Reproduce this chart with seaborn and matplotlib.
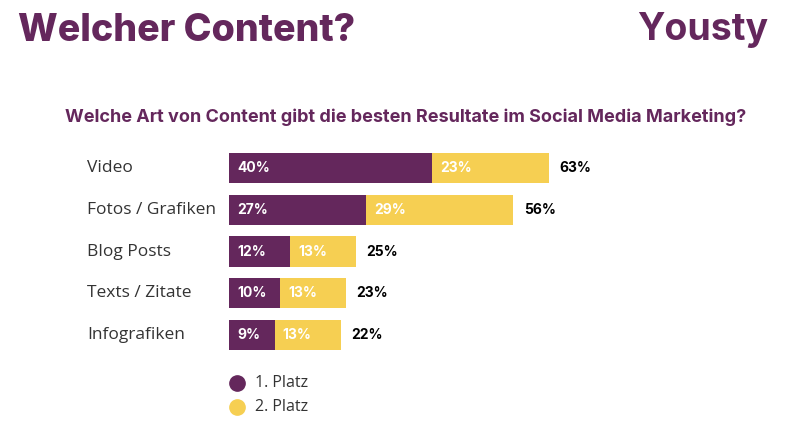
import matplotlib
matplotlib.use("Agg")
import matplotlib.pyplot as plt
import seaborn as sns
import pandas as pd
from matplotlib.lines import Line2D

categories = ["Video", "Fotos / Grafiken", "Blog Posts", "Texts / Zitate", "Infografiken"]
platz1 = [40, 27, 12, 10, 9]
platz2 = [23, 29, 13, 13, 13]
totals = [63, 56, 25, 23, 22]
legend_labels = ["1. Platz", "2. Platz"]

PURPLE = "#64275c"
YELLOW = "#f6cf52"
TEXT = "#333333"
BOLDFAM = ['Inter', 'DejaVu Sans']

sns.set_theme(style="white")
plt.rcParams['font.family'] = ['Open Sans', 'DejaVu Sans']

df = pd.DataFrame({"cat": categories, "p1": platz1, "p2": platz2, "total": totals})

fig = plt.figure(figsize=(8, 4.37), dpi=100)
ax = fig.add_axes([229/800, 1-356/437, 508/800, (356-147)/437])

sns.barplot(data=df, y="cat", x="total", color=YELLOW, orient="h", width=0.72,
            saturation=1, linewidth=0, ax=ax)
sns.barplot(data=df, y="cat", x="p1", color=PURPLE, orient="h", width=0.72,
            saturation=1, linewidth=0, ax=ax)
ax.set_xlim(0, 100)
ax.set_ylim(4.5, -0.5)
ax.axis("off")

bold = dict(family=BOLDFAM, fontweight='bold', fontsize=10)
for i, (a, b, t) in enumerate(zip(platz1, platz2, totals)):
    ax.text(1.6, i, f"{a}%", color="white", va="center", ha="left", **bold)
    ax.text(a + 1.6, i, f"{b}%", color="white", va="center", ha="left", **bold)
    ax.text(t + 2.0, i, f"{t}%", color="black", va="center", ha="left", **bold)
    fig.text(87/800, 1 - (168 + i*41.75)/437, categories[i], color=TEXT,
             fontsize=12.5, va="center", ha="left")

fig.text(18/800, 1-31/437, "Welcher Content?", color=PURPLE, fontsize=27,
         fontweight="heavy", family=BOLDFAM, va="center", ha="left")
fig.text(768/800, 1-30/437, "Yousty", color=PURPLE, fontsize=27,
         fontweight="bold", family=BOLDFAM, va="center", ha="right")
fig.text(406/800, 1-117/437,
         "Welche Art von Content gibt die besten Resultate im Social Media Marketing?",
         color=PURPLE, fontsize=13, fontweight="bold", family=BOLDFAM,
         va="center", ha="center")

for j, (lab, col) in enumerate(zip(legend_labels, [PURPLE, YELLOW])):
    y = 1 - (383 + j*24)/437
    fig.add_artist(Line2D([237/800], [y], marker="o", markersize=11, color=col,
                          linestyle="none", transform=fig.transFigure))
    fig.text(255/800, y, lab, color=TEXT, fontsize=11.5, va="center", ha="left")

fig.savefig("out.png", dpi=100, facecolor="white")
